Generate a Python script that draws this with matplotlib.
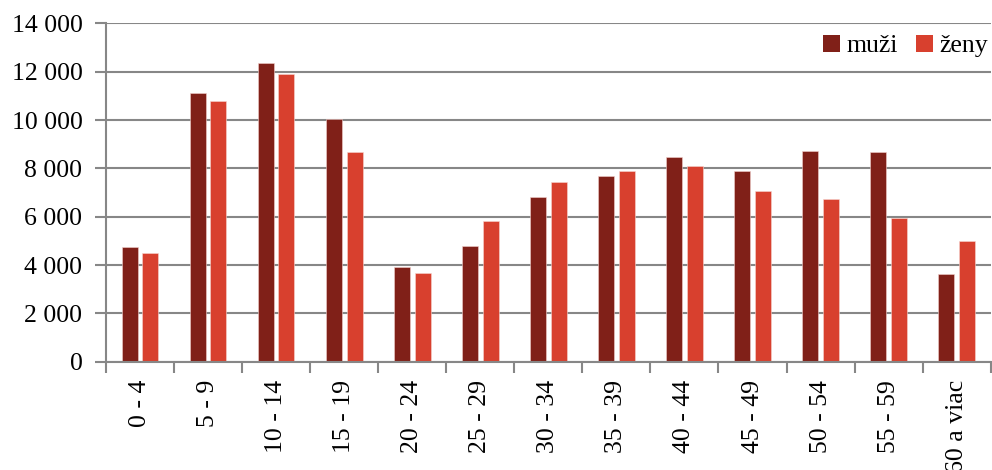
import matplotlib
matplotlib.use("Agg")
import matplotlib.pyplot as plt
import numpy as np
from matplotlib.patches import Patch
from matplotlib.ticker import FuncFormatter, FixedLocator

categories = ["0 - 4", "5 - 9", "10 - 14", "15 - 19", "20 - 24", "25 - 29", "30 - 34",
              "35 - 39", "40 - 44", "45 - 49", "50 - 54", "55 - 59", "60 a viac"]
muzi = [4740, 11110, 12350, 10030, 3920, 4800, 6800, 7700, 8460, 7890, 8720, 8670, 3620]
zeny = [4510, 10800, 11900, 8680, 3660, 5810, 7420, 7890, 8100, 7050, 6730, 5950, 4980]
series_names = ["muži", "ženy"]
y_ticks = [0, 2000, 4000, 6000, 8000, 10000, 12000, 14000]

c_m = "#802018"
c_z = "#D8402E"
grid_c = "#878787"

plt.rcParams['font.family'] = ['Liberation Serif', 'DejaVu Serif']
plt.rcParams['font.size'] = 18.5

fig = plt.figure(figsize=(9.92, 4.70), dpi=100)
ax = fig.add_axes([106/992, (470-361.7)/470, (990.7-106)/992, (361.7-23.4)/470])

x = np.arange(len(categories))
bw = 0.235
off = 0.152
ax.bar(x - off, muzi, bw, color=c_m, edgecolor="#f2d0cc", linewidth=0.4, zorder=3)
ax.bar(x + off, zeny, bw, color=c_z, edgecolor="#f6d6d0", linewidth=0.4, zorder=3)

ax.set_xlim(-0.5, len(categories) - 0.5)
ax.set_ylim(0, 14000)
ax.set_yticks(y_ticks)
ax.yaxis.set_major_formatter(FuncFormatter(lambda v, p: f"{int(v):,}".replace(",", " ")))
ax.yaxis.grid(True, color=grid_c, linewidth=1.5, zorder=0)
ax.set_axisbelow(True)

ax.set_xticks(x)
ax.set_xticklabels(categories, rotation=90, va="top", ha="center")
ax.xaxis.set_minor_locator(FixedLocator(np.arange(-0.5, len(categories), 1.0)))
ax.tick_params(axis="x", which="major", length=0, pad=13)
ax.tick_params(axis="x", which="minor", length=8, width=1.5, color=grid_c, direction="out")
ax.tick_params(axis="y", length=8, width=1.5, color=grid_c, pad=9)

for s in ["top", "right"]:
    ax.spines[s].set_visible(False)
for s in ["left", "bottom"]:
    ax.spines[s].set_color(grid_c)
    ax.spines[s].set_linewidth(1.5)
ax.spines["bottom"].set_zorder(4)

handles = [Patch(facecolor=c_m), Patch(facecolor=c_z)]
leg = ax.legend(handles, series_names, loc="upper right", bbox_to_anchor=(1.014, 1.012),
                ncol=2, frameon=False, handlelength=0.65, handleheight=0.65,
                handletextpad=0.25, columnspacing=0.7, borderaxespad=0.2)

fig.savefig("out.png", dpi=100)
